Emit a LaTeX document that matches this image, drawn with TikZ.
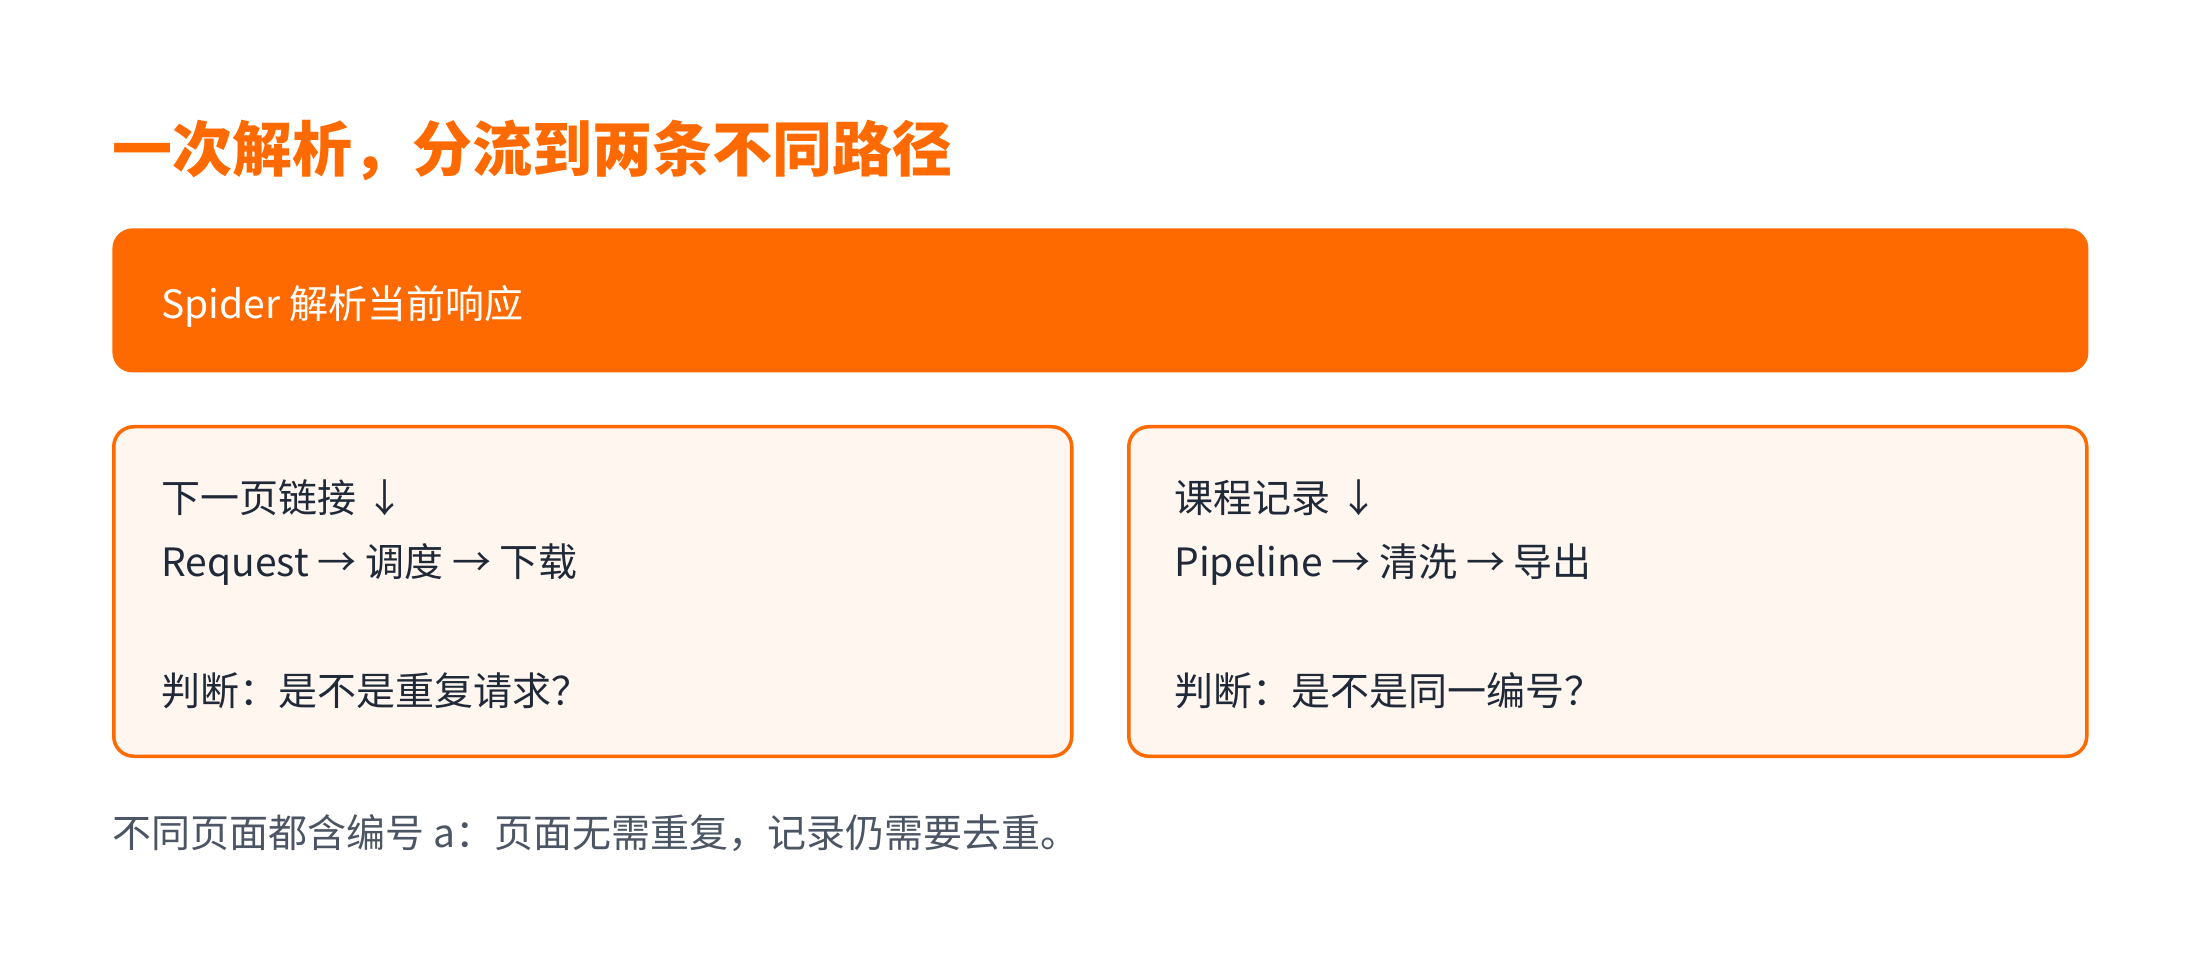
\documentclass[tikz,border=0pt]{standalone}
\usepackage{fontspec}
\setmainfont{Noto Sans CJK SC}
\usetikzlibrary{positioning}
\definecolor{flowOrange}{HTML}{FF6A00}
\definecolor{flowCream}{HTML}{FFF6F0}
\definecolor{flowInk}{HTML}{1F2937}
\definecolor{flowGrey}{HTML}{4B5563}

\begin{document}
\begin{tikzpicture}[x=0.5pt,y=-0.5pt,
    headbox/.style={fill=flowOrange, rounded corners=10pt, inner sep=0pt},
    pathbox/.style={draw=flowOrange, line width=1.75pt, fill=flowCream, rounded corners=10pt, inner sep=0pt, minimum width=479pt, minimum height=164.75pt},
    bodytext/.style={anchor=base west, inner sep=0pt, font=\fontsize{19.5pt}{24pt}\selectfont, text=flowInk}]
    \useasboundingbox (0,0) rectangle (2200,956);
    % title
    \node (title) [anchor=base west, inner sep=0pt, text=flowOrange, font=\fontsize{30pt}{36pt}\selectfont\bfseries] at (112,172) {一次解析，分流到两条不同路径};
    % spider bar
    \node (spider) [headbox, anchor=north west, minimum width=988pt, minimum height=72pt] at (112,228) {};
    \node (spidertext) [bodytext, text=white] at (161,319) {Spider 解析当前响应};
    % two paths
    \node (linkbox) [pathbox, anchor=north west] at (112,425) {};
    \node (itembox) [pathbox, anchor=north west] at (1127,425) {};
    \node (linkhead) [bodytext] at (161,513) {下一页链接 ↓};
    \node (linkflow) [bodytext] at (161,577) {Request → 调度 → 下载};
    \node (linkask) [bodytext] at (161,705) {判断：是不是重复请求？};
    \node (itemhead) [bodytext] at (1174,513) {课程记录 ↓};
    \node (itemflow) [bodytext] at (1174,577) {Pipeline → 清洗 → 导出};
    \node (itemask) [bodytext] at (1174,705) {判断：是不是同一编号？};
    % note
    \node (note) [bodytext, text=flowGrey] at (112,847) {不同页面都含编号 a：页面无需重复，记录仍需要去重。};
\end{tikzpicture}
\end{document}
